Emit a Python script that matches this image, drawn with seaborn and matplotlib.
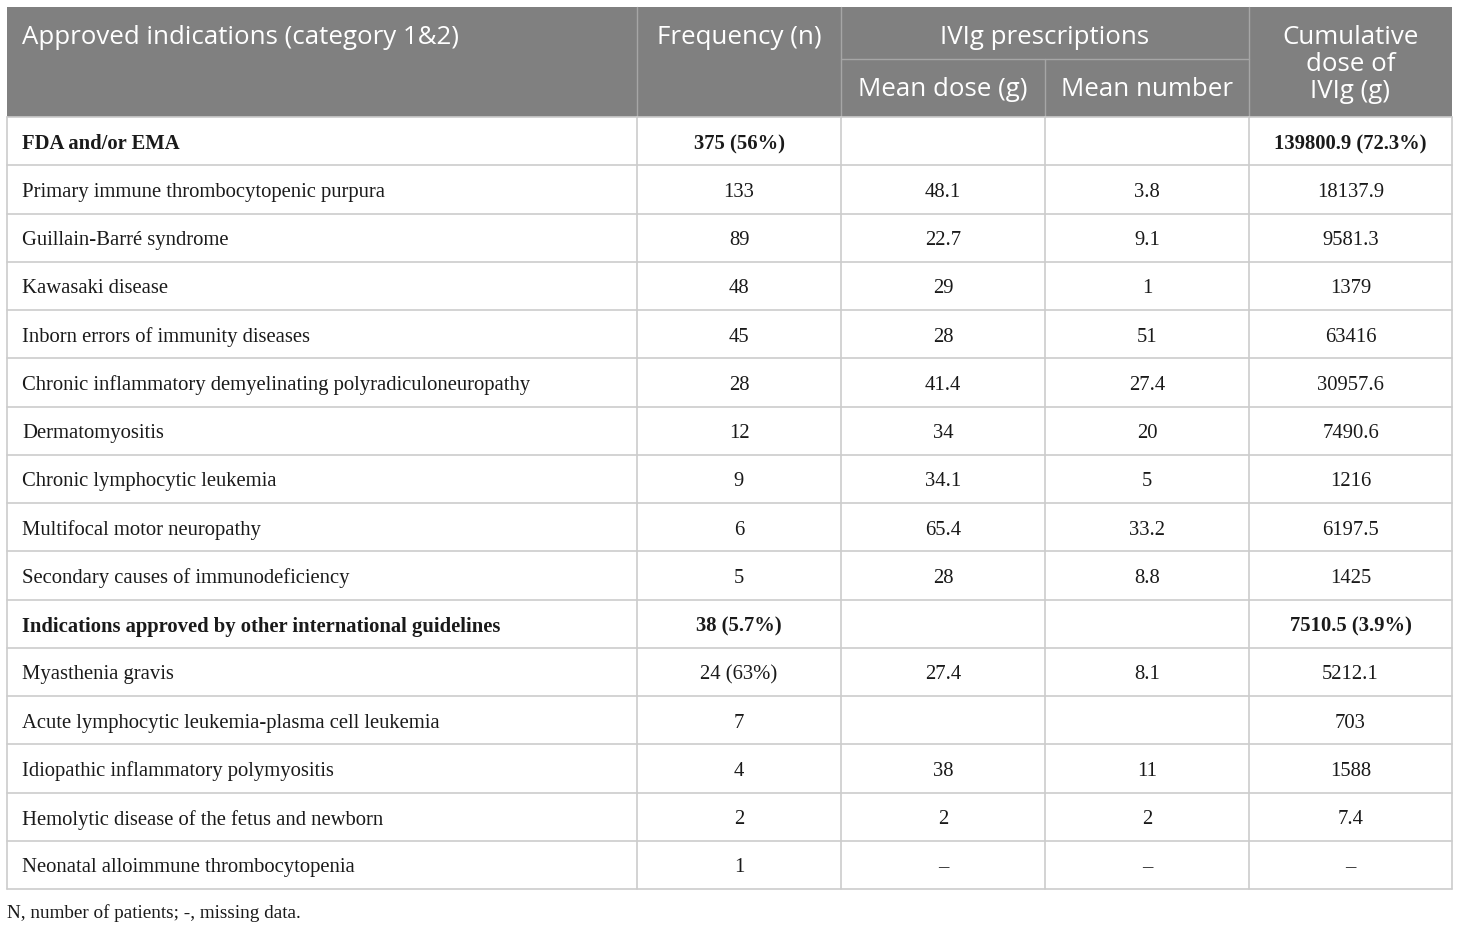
import matplotlib
matplotlib.use("Agg")
import matplotlib.pyplot as plt
import seaborn as sns

# === Table data ===
indications = [
    "FDA and/or EMA",
    "Primary immune thrombocytopenic purpura",
    "Guillain-Barré syndrome",
    "Kawasaki disease",
    "Inborn errors of immunity diseases",
    "Chronic inflammatory demyelinating polyradiculoneuropathy",
    "Dermatomyositis",
    "Chronic lymphocytic leukemia",
    "Multifocal motor neuropathy",
    "Secondary causes of immunodeficiency",
    "Indications approved by other international guidelines",
    "Myasthenia gravis",
    "Acute lymphocytic leukemia-plasma cell leukemia",
    "Idiopathic inflammatory polymyositis",
    "Hemolytic disease of the fetus and newborn",
    "Neonatal alloimmune thrombocytopenia",
]
frequency = ["375 (56%)", "133", "89", "48", "45", "28", "12", "9", "6", "5",
             "38 (5.7%)", "24 (63%)", "7", "4", "2", "1"]
mean_dose = ["", "48.1", "22.7", "29", "28", "41.4", "34", "34.1", "65.4", "28",
             "", "27.4", "", "38", "2", "–"]
mean_number = ["", "3.8", "9.1", "1", "51", "27.4", "20", "5", "33.2", "8.8",
               "", "8.1", "", "11", "2", "–"]
cumulative = ["139800.9 (72.3%)", "18137.9", "9581.3", "1379", "63416", "30957.6",
              "7490.6", "1216", "6197.5", "1425", "7510.5 (3.9%)", "5212.1", "703",
              "1588", "7.4", "–"]
section_rows = [0, 10]
footnote = "N, number of patients; -, missing data."

# === Layout (pixels) ===
W, H = 1460, 928
col_edges = [7, 637, 841, 1045, 1249, 1452]
head_top, head_mid, head_bot = 8, 60, 118
row_h = 48.25
header_bg = "#808080"
grid_col = "#cccccc"
head_line = "#a6a6a6"

sns.set_theme(style="white")
plt.rcParams["font.family"] = ["Open Sans", "DejaVu Sans"]

fig = plt.figure(figsize=(W / 100, H / 100), dpi=100)
ax = fig.add_axes([0, 0, 1, 1])
ax.set_xlim(0, W)
ax.set_ylim(H, 0)
ax.axis("off")

# header background
ax.add_patch(plt.Rectangle((col_edges[0], head_top), col_edges[-1] - col_edges[0],
                           head_bot - head_top, color=header_bg, lw=0))
# header separators (the one between the two IVIg sub-columns starts at the mid line)
for k, x in enumerate(col_edges[1:-1], start=1):
    y0 = head_mid if k == 3 else head_top
    ax.plot([x, x], [y0, head_bot], color=head_line, lw=1)
ax.plot([col_edges[2], col_edges[4]], [head_mid, head_mid], color=head_line, lw=1)

hfont = dict(color="white", fontsize=18.6, family=["Open Sans", "DejaVu Sans"])
ax.text(22, 37, "Approved indications (category 1&2)", ha="left", va="center", **hfont)
ax.text((col_edges[1] + col_edges[2]) / 2, 37, "Frequency (n)", ha="center", va="center", **hfont)
ax.text((col_edges[2] + col_edges[4]) / 2, 37, "IVIg prescriptions", ha="center", va="center", **hfont)
ax.text((col_edges[2] + col_edges[3]) / 2, 89, "Mean dose (g)", ha="center", va="center", **hfont)
ax.text((col_edges[3] + col_edges[4]) / 2, 89, "Mean number", ha="center", va="center", **hfont)
for line, y in zip(["Cumulative", "dose of", "IVIg (g)"], [37, 64.5, 92]):
    ax.text((col_edges[4] + col_edges[5]) / 2, y, line, ha="center", va="center", **hfont)

# body grid
n = len(indications)
body_bot = head_bot + n * row_h
for i in range(n + 1):
    y = head_bot + i * row_h
    ax.plot([col_edges[0], col_edges[-1]], [y, y], color=grid_col, lw=1.2)
for x in col_edges:
    ax.plot([x, x], [head_bot, body_bot], color=grid_col, lw=1.2)

# body text
columns = [frequency, mean_dose, mean_number, cumulative]
for i, name in enumerate(indications):
    yc = head_bot + (i + 0.5) * row_h + 2
    weight = "bold" if i in section_rows else "normal"
    bfont = dict(fontsize=14.9, family=["Liberation Serif", "DejaVu Serif"], color="#1a1a1a",
                 weight=weight, va="center")
    ax.text(22, yc, name, ha="left", **bfont)
    for j, col in enumerate(columns):
        xc = (col_edges[j + 1] + col_edges[j + 2]) / 2
        ax.text(xc, yc, col[i], ha="center", **bfont)

ax.text(7, 913, footnote, ha="left", va="center", fontsize=13.8,
        family=["Liberation Serif", "DejaVu Serif"], color="#1a1a1a")

fig.savefig("out.png", dpi=100, facecolor="white")
